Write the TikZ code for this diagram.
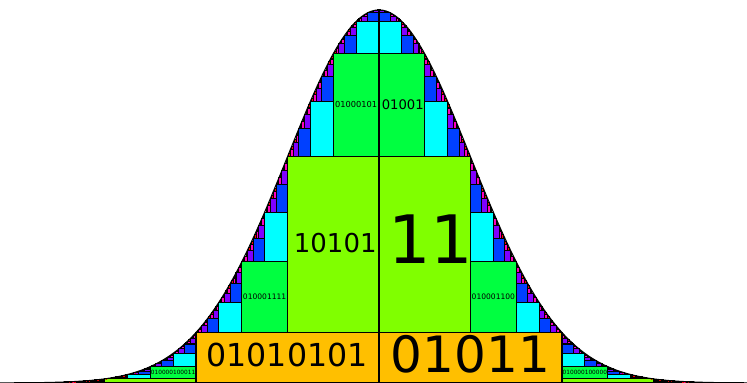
\documentclass[tikz,border=0pt]{standalone}
\usepackage{fontspec}
\setmainfont{DejaVu Sans}

\definecolor{depth0}{HTML}{FFBF00}
\definecolor{depth1}{HTML}{80FF00}
\definecolor{depth2}{HTML}{00FF40}
\definecolor{depth3}{HTML}{00FFFF}
\definecolor{depth4}{HTML}{0040FF}
\definecolor{depth5}{HTML}{8000FF}
\definecolor{depth6}{HTML}{FF00BF}
\definecolor{depth7}{HTML}{FF0000}

% tile under the bell curve (and its mirror), then the tile above it and the one beside it
\newcommand{\zigbox}[4]{%
  \ifnum#4<8\relax\ifdim#1pt<4.2pt
  \begingroup
    \pgfmathsetmacro{\zigright}{#1+#3}
    \pgfmathsetmacro{\zigtop}{exp(-0.5*\zigright*\zigright)}
    \pgfmathsetmacro{\zighalf}{#3/2}
    \pgfmathtruncatemacro{\zigdepth}{#4+1}
    \draw[tile, fill=depth#4] (#1,#2) rectangle (\zigright,\zigtop);
    \draw[tile, fill=depth#4] (-#1,#2) rectangle (-\zigright,\zigtop);
    \edef\zignext{\noexpand\zigbox{#1}{\zigtop}{\zighalf}{\zigdepth}%
      \noexpand\zigbox{\zigright}{#2}{\zighalf}{\zigdepth}}%
    \zignext
  \endgroup
  \fi\fi}

\begin{document}
\begin{tikzpicture}[x=1.83cm, y=7.46cm,
    tile/.style={draw=black, line width=0.6pt},
    bell/.style={draw=black, line width=0.6pt},
    code/.style={inner sep=0pt, text=black}
]
    \useasboundingbox (-4.142,0) rectangle (4.022,1.0268);
    \clip (-4.142,0) rectangle (4.022,1.0268);

    % Tiles
    \zigbox{0}{0}{2}{0}

    % Bell curve
    \draw[bell] plot[domain=-4.142:4.022, samples=241, smooth] (\x,{exp(-0.5*\x*\x)});

    % Codes
    \node[code, font=\fontsize{18}{18}\selectfont] (codeA) at (-1.005,0.0742) {01010101};
    \node[code, font=\fontsize{28.5}{28.5}\selectfont] (codeB) at (1.0,0.0777) {01011};
    \node[code, font=\fontsize{14.8}{14.8}\selectfont] (codeC) at (-0.478,0.3753) {10101};
    \node[code, font=\fontsize{38}{38}\selectfont] (codeD) at (0.566,0.3847) {11};
    \node[code, font=\fontsize{4.7}{4.7}\selectfont] (codeE) at (-0.25,0.7455) {01000101};
    \node[code, font=\fontsize{7.5}{7.5}\selectfont] (codeF) at (0.26,0.7473) {01001};
    \node[code, font=\fontsize{4.3}{4.3}\selectfont] (codeG) at (-1.25,0.2305) {010001111};
    \node[code, font=\fontsize{4.3}{4.3}\selectfont] (codeH) at (1.25,0.2305) {010001100};
    \node[code, font=\fontsize{3.3}{3.3}\selectfont] (codeI) at (-2.25,0.0275) {010000100011};
    \node[code, font=\fontsize{3.3}{3.3}\selectfont] (codeJ) at (2.25,0.0275) {010000100000};
\end{tikzpicture}
\end{document}
